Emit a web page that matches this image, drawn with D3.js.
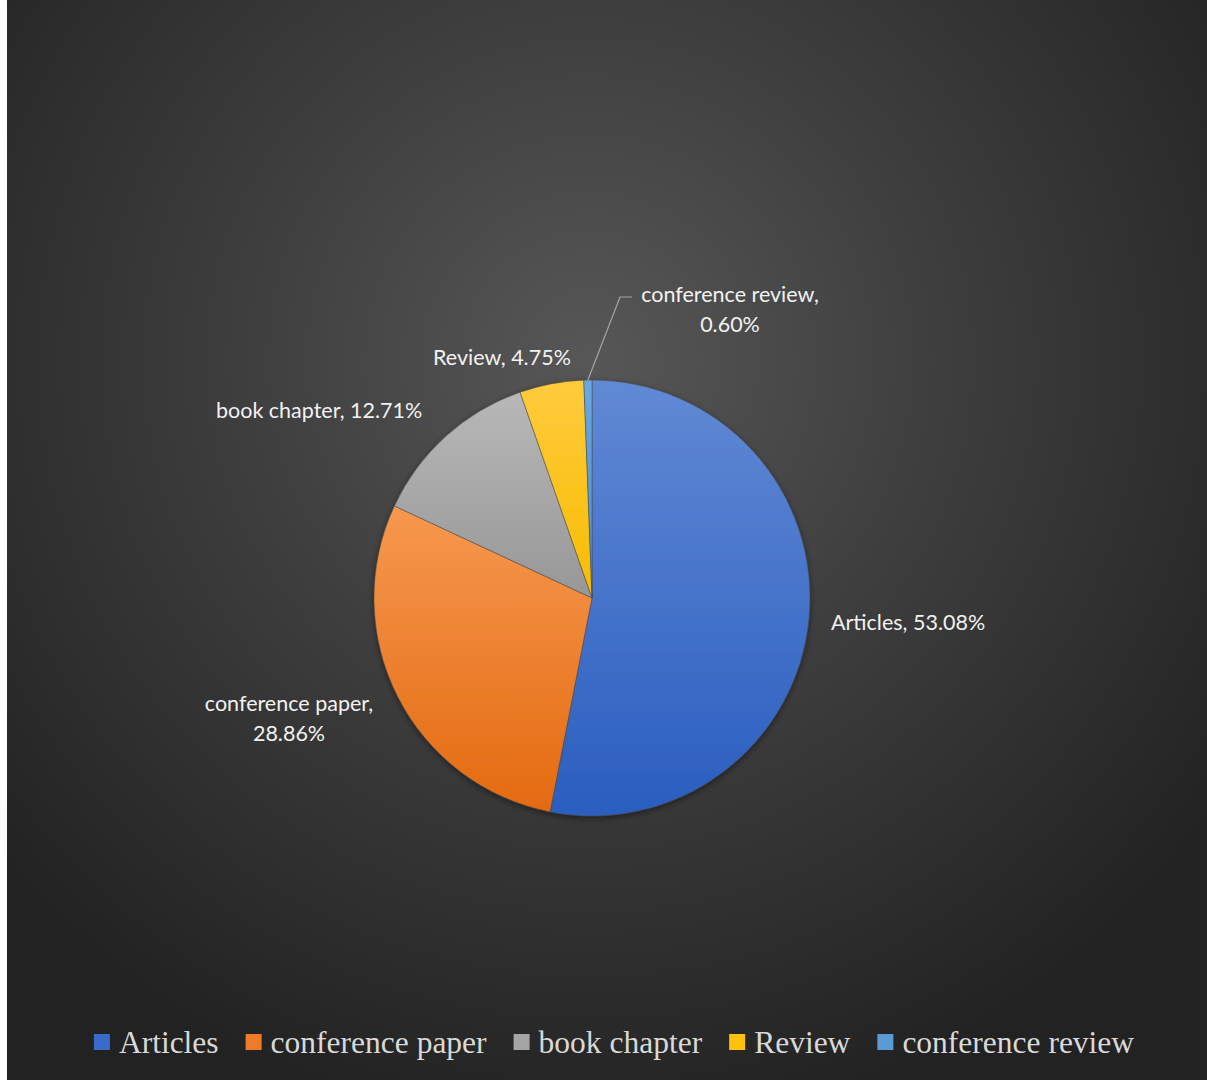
<!DOCTYPE html>
<html>
<head>
<meta charset="utf-8">
<script src="https://cdn.jsdelivr.net/npm/d3@7"></script>
<style>
  html, body { margin: 0; padding: 0; background: #ffffff; }
  svg { display: block; }
</style>
</head>
<body>
<svg id="chart" width="1207" height="1080"></svg>
<script>
// Publication types and their share of the total (%)
const categories = ["Articles", "conference paper", "book chapter", "Review", "conference review"];
const shares = [53.08, 28.86, 12.71, 4.75, 0.60];
const labelLines = [
  ["Articles, 53.08%"],
  ["conference paper,", "28.86%"],
  ["book chapter, 12.71%"],
  ["Review, 4.75%"],
  ["conference review,", "0.60%"]
];
// gradient stops per slice: [top, bottom]
const sliceColors = [
  ["#6189d4", "#2a5ec0"],
  ["#f6984f", "#e46a10"],
  ["#b8b8b8", "#979797"],
  ["#ffcb3d", "#f7bc00"],
  ["#6aa8e0", "#4a8ccc"]
];
const legendColors = ["#3a6bcb", "#ee7a2a", "#a5a5a5", "#ffc20a", "#5b9bd5"];

const W = 1207, H = 1080;
const svg = d3.select("#chart");
const defs = svg.append("defs");

// chart area background: radial glow on dark grey
const bg = defs.append("radialGradient").attr("id", "bgGrad")
  .attr("gradientUnits", "userSpaceOnUse")
  .attr("cx", 590).attr("cy", 360).attr("r", 780);
bg.append("stop").attr("offset", "0%").attr("stop-color", "#575757");
bg.append("stop").attr("offset", "45%").attr("stop-color", "#3e3e3e");
bg.append("stop").attr("offset", "100%").attr("stop-color", "#222222");
svg.append("rect").attr("x", 7).attr("y", 0).attr("width", W - 7).attr("height", H)
  .attr("fill", "url(#bgGrad)");

// soft shadow under the pie
const sh = defs.append("filter").attr("id", "pieShadow")
  .attr("x", "-20%").attr("y", "-20%").attr("width", "140%").attr("height", "140%");
sh.append("feDropShadow").attr("dx", 0).attr("dy", 2).attr("stdDeviation", 3)
  .attr("flood-color", "#000").attr("flood-opacity", 0.45);

sliceColors.forEach((c, i) => {
  const g = defs.append("linearGradient").attr("id", "slice" + i)
    .attr("x1", 0).attr("y1", 0).attr("x2", 0).attr("y2", 1);
  g.append("stop").attr("offset", "0%").attr("stop-color", c[0]);
  g.append("stop").attr("offset", "100%").attr("stop-color", c[1]);
});

const cx = 592, cy = 598, R = 218;
const data = categories.map((c, i) => ({ name: c, value: shares[i], i }));
const pie = d3.pie().value(d => d.value).sort(null);
const arcs = pie(data);
const arc = d3.arc().innerRadius(0).outerRadius(R);

const pieG = svg.append("g").attr("transform", `translate(${cx},${cy})`)
  .attr("filter", "url(#pieShadow)");
pieG.selectAll("path").data(arcs).join("path")
  .attr("d", arc)
  .attr("fill", d => `url(#slice${d.data.i})`)
  .attr("stroke", "rgba(70,70,70,0.6)")
  .attr("stroke-width", 0.8);

// data labels
const labelFont = "Lato, 'Open Sans', sans-serif";
const labelPos = [
  { x: 831, y: 630, anchor: "start" },
  { x: 289, y: 711, anchor: "middle" },
  { x: 216, y: 418, anchor: "start" },
  { x: 433, y: 365, anchor: "start" },
  { x: 730, y: 302, anchor: "middle" }
];
const lblG = svg.append("g");
labelLines.forEach((lines, i) => {
  const p = labelPos[i];
  const t = lblG.append("text")
    .attr("x", p.x).attr("y", p.y)
    .attr("text-anchor", p.anchor)
    .attr("font-family", labelFont)
    .attr("font-size", 21.5)
    .attr("fill", "#f2f2f2");
  lines.forEach((ln, k) => {
    t.append("tspan").attr("x", p.x).attr("dy", k === 0 ? 0 : 30).text(ln);
  });
});

// leader line for the smallest slice
const small = arcs[4];
const mid = (small.startAngle + small.endAngle) / 2;
const edge = [cx + R * Math.sin(mid), cy - R * Math.cos(mid)];
svg.append("path")
  .attr("d", d3.line()([edge, [620, 297], [632, 297]]))
  .attr("fill", "none")
  .attr("stroke", "#a6a6a6")
  .attr("stroke-width", 1.2);

// legend
const legG = svg.append("g");
const sw = 16, gapBox = 9, gapItem = 27, legFont = 31.5, legY = 1053;
const items = [];
let x = 0;
categories.forEach((c, i) => {
  const g = legG.append("g");
  g.append("rect").attr("x", 0).attr("y", -19).attr("width", sw).attr("height", sw)
    .attr("fill", legendColors[i]);
  const t = g.append("text").attr("x", sw + gapBox).attr("y", 0)
    .attr("font-family", "'Liberation Serif', 'Times New Roman', serif")
    .attr("font-size", legFont)
    .attr("fill", "#d9d9d9")
    .text(c);
  const w = sw + gapBox + t.node().getComputedTextLength();
  items.push({ g, x, w });
  x += w + gapItem;
});
const total = x - gapItem;
const startX = 93 + ((1135 - 93) - total) / 2;
items.forEach(it => it.g.attr("transform", `translate(${startX + it.x},${legY})`));
</script>
</body>
</html>
